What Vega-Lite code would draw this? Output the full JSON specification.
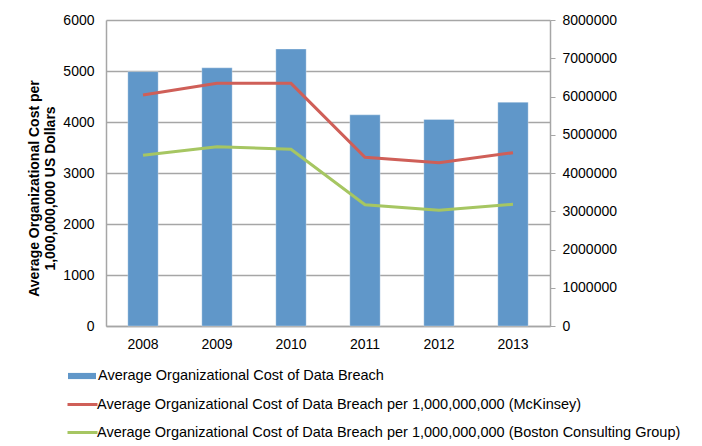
{
  "$schema": "https://vega.github.io/schema/vega-lite/v6.json",
  "autosize": "none",
  "width": 444,
  "height": 306,
  "padding": {"left": 106, "top": 20, "right": 152, "bottom": 120},
  "background": "white",
  "config": {
    "font": "Liberation Sans",
    "view": {"stroke": null},
    "axis": {"labelFont": "Liberation Sans", "labelFontSize": 14, "labelColor": "#000000", "titleFont": "Liberation Sans", "domainColor": "#A6A6A6", "gridColor": "#A6A6A6", "tickColor": "#A6A6A6"},
    "legend": {"labelFont": "Liberation Sans", "labelFontSize": 14.5, "labelColor": "#000000", "padding": 0, "labelLimit": 700}
  },
  "data": {
    "values": [
      {"year": "2008", "series": "Average Organizational Cost of Data Breach", "value": 6650000},
      {"year": "2009", "series": "Average Organizational Cost of Data Breach", "value": 6750000},
      {"year": "2010", "series": "Average Organizational Cost of Data Breach", "value": 7240000},
      {"year": "2011", "series": "Average Organizational Cost of Data Breach", "value": 5520000},
      {"year": "2012", "series": "Average Organizational Cost of Data Breach", "value": 5400000},
      {"year": "2013", "series": "Average Organizational Cost of Data Breach", "value": 5850000},
      {"year": "2008", "series": "Average Organizational Cost of Data Breach per 1,000,000,000 (McKinsey)", "value": 4530},
      {"year": "2009", "series": "Average Organizational Cost of Data Breach per 1,000,000,000 (McKinsey)", "value": 4758},
      {"year": "2010", "series": "Average Organizational Cost of Data Breach per 1,000,000,000 (McKinsey)", "value": 4758},
      {"year": "2011", "series": "Average Organizational Cost of Data Breach per 1,000,000,000 (McKinsey)", "value": 3307},
      {"year": "2012", "series": "Average Organizational Cost of Data Breach per 1,000,000,000 (McKinsey)", "value": 3202},
      {"year": "2013", "series": "Average Organizational Cost of Data Breach per 1,000,000,000 (McKinsey)", "value": 3398},
      {"year": "2008", "series": "Average Organizational Cost of Data Breach per 1,000,000,000 (Boston Consulting Group)", "value": 3346},
      {"year": "2009", "series": "Average Organizational Cost of Data Breach per 1,000,000,000 (Boston Consulting Group)", "value": 3516},
      {"year": "2010", "series": "Average Organizational Cost of Data Breach per 1,000,000,000 (Boston Consulting Group)", "value": 3464},
      {"year": "2011", "series": "Average Organizational Cost of Data Breach per 1,000,000,000 (Boston Consulting Group)", "value": 2379},
      {"year": "2012", "series": "Average Organizational Cost of Data Breach per 1,000,000,000 (Boston Consulting Group)", "value": 2268},
      {"year": "2013", "series": "Average Organizational Cost of Data Breach per 1,000,000,000 (Boston Consulting Group)", "value": 2386}
    ]
  },
  "encoding": {
    "x": {
      "field": "year", "type": "ordinal",
      "scale": {"paddingInner": 0.59, "paddingOuter": 0.295},
      "axis": {"title": null, "labelAngle": 0, "ticks": false, "labelPadding": 11, "grid": false, "domainWidth": 1.5}
    }
  },
  "layer": [
    {
      "transform": [{"filter": "datum.series === 'Average Organizational Cost of Data Breach'"}],
      "mark": {"type": "bar", "stroke": "#FFFFFF", "strokeWidth": 0.5, "strokeOpacity": 0.6},
      "encoding": {
        "y": {
          "field": "value", "type": "quantitative",
          "scale": {"domain": [0, 8000000], "nice": false},
          "axis": {"orient": "right", "title": null, "grid": false, "values": [0,1000000,2000000,3000000,4000000,5000000,6000000,7000000,8000000], "format": "d", "labelOverlap": false, "tickSize": 5, "labelPadding": 7, "domainWidth": 1.5}
        },
        "fill": {
          "field": "series", "type": "nominal",
          "scale": {"range": ["#6097C9"]},
          "legend": {"orient": "none", "legendX": -38, "legendY": 342, "title": null, "symbolType": "M-1,-0.22L1,-0.22L1,0.22L-1,0.22Z", "symbolSize": 784, "symbolStrokeWidth": 0, "labelOffset": 2}
        }
      }
    },
    {
      "transform": [{"filter": "datum.series !== 'Average Organizational Cost of Data Breach'"}],
      "mark": {"type": "line", "strokeWidth": 3},
      "encoding": {
        "y": {
          "field": "value", "type": "quantitative",
          "scale": {"domain": [0, 6000], "nice": false},
          "axis": {"orient": "left", "title": ["Average Organizational Cost per", "1,000,000,000 US Dollars"], "titleFontSize": 14, "titleFontWeight": "bold", "titleLineHeight": 16, "titleAngle": -90, "titleBaseline": "top", "titleAlign": "center", "titleX": -79, "titleY": 168, "values": [0,1000,2000,3000,4000,5000,6000], "format": "d", "ticks": false, "labelPadding": 12, "grid": true, "gridWidth": 1.5, "domainWidth": 1.5}
        },
        "stroke": {
          "field": "series", "type": "nominal",
          "sort": ["Average Organizational Cost of Data Breach per 1,000,000,000 (McKinsey)", "Average Organizational Cost of Data Breach per 1,000,000,000 (Boston Consulting Group)"],
          "scale": {"domain": ["Average Organizational Cost of Data Breach per 1,000,000,000 (McKinsey)", "Average Organizational Cost of Data Breach per 1,000,000,000 (Boston Consulting Group)"], "range": ["#CF5F58", "#A6C662"]},
          "legend": {"orient": "none", "legendX": -40, "legendY": 368, "title": null, "symbolType": "stroke", "symbolSize": 900, "symbolStrokeWidth": 3, "labelOffset": -2, "rowPadding": 5}
        }
      }
    }
  ],
  "resolve": {"scale": {"y": "independent", "fill": "independent", "stroke": "independent"}}
}
